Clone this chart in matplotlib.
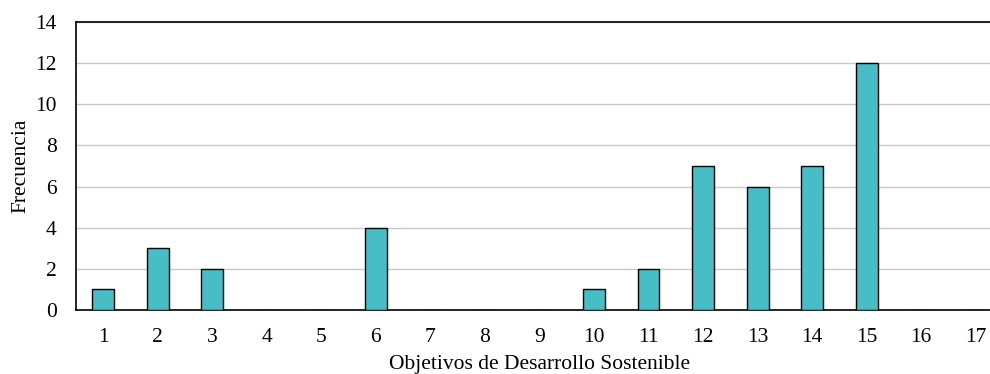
import numpy as np
import matplotlib
matplotlib.use("Agg")
import matplotlib.pyplot as plt

plt.rcParams['font.family'] = ['Liberation Serif', 'DejaVu Serif']

ods = list(range(1, 18))
frecuencia = [1, 3, 2, 0, 0, 4, 0, 0, 0, 1, 2, 7, 6, 7, 12, 0, 0]

fig = plt.figure(figsize=(9.9, 3.74), dpi=100)
ax = fig.add_axes([76/990, (374-310)/374, (1003-76)/990, (310-22)/374])

ax.bar(ods, frecuencia, width=0.4, color='#47BDC6', edgecolor='black', linewidth=1, zorder=3)

ax.set_xlim(0.5, 17.5)
ax.set_ylim(0, 14)
ax.set_xticks(ods)
ax.set_yticks(np.arange(0, 15, 2))
ax.tick_params(axis='both', length=0, labelsize=15.5)
ax.tick_params(axis='x', pad=13)
ax.tick_params(axis='y', pad=14)
ax.grid(axis='y', color='#C8C8C8', linewidth=1, zorder=0)
ax.spines['right'].set_visible(False)
for s in ['left', 'bottom', 'top']:
    ax.spines[s].set_linewidth(1.2)
    ax.spines[s].set_color('black')

ax.set_xlabel('Objetivos de Desarrollo Sostenible', fontsize=15.5, labelpad=6)
ax.set_ylabel('Frecuencia', fontsize=15.5, labelpad=3)

fig.savefig('out.png', dpi=100)
